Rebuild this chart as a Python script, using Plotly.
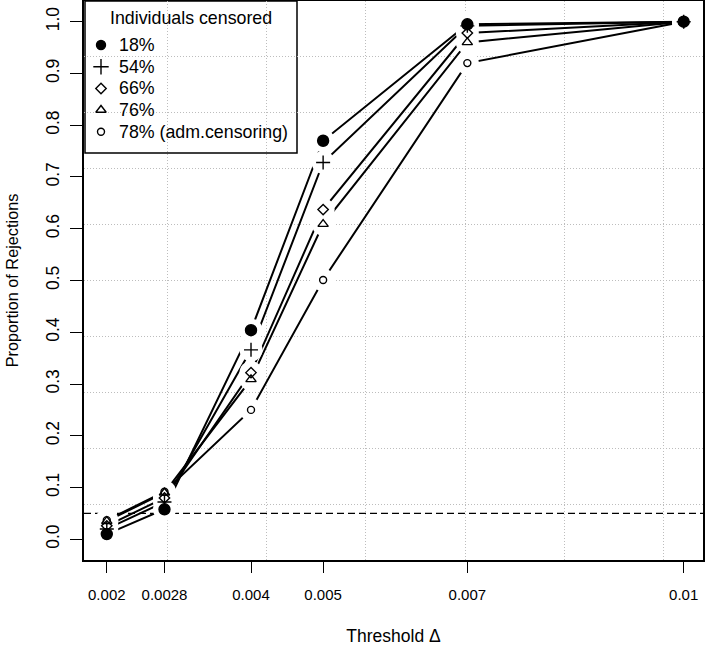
import plotly.graph_objects as go

# ---------------- data ----------------
thresholds = [0.002, 0.0028, 0.004, 0.005, 0.007, 0.01]
tick_labels = ["0.002", "0.0028", "0.004", "0.005", "0.007", "0.01"]
series_names = ["18%", "54%", "66%", "76%", "78% (adm.censoring)"]
rej_18 = [0.010, 0.058, 0.404, 0.770, 0.995, 1.000]
rej_54 = [0.020, 0.072, 0.366, 0.728, 0.992, 1.000]
rej_66 = [0.026, 0.080, 0.322, 0.637, 0.978, 1.000]
rej_76 = [0.035, 0.090, 0.309, 0.609, 0.960, 1.000]
rej_78 = [0.037, 0.092, 0.250, 0.501, 0.920, 1.000]
y_tick_vals = [0.0, 0.1, 0.2, 0.3, 0.4, 0.5, 0.6, 0.7, 0.8, 0.9, 1.0]
nominal_level = 0.05
legend_title = "Individuals censored"

series_values = [rej_18, rej_54, rej_66, rej_76, rej_78]

# ---------------- styles ----------------
FONT = "Liberation Sans, Arial, Helvetica, sans-serif"
plot_symbols = ["circle", "cross-thin-open", "diamond-open", "triangle-up-open", "circle-open"]
plot_sizes = [11, 10, 8, 9, 7]
legend_sizes = [9, 11, 8, 9, 7]

x_range = [0.001684, 0.010268]
y_range = [-0.04, 1.04]
# R-style grid: equally spaced dotted lines
x_grid = [0.002835 + k * 0.0013775 for k in range(6)]
y_grid = [y_range[0] + k * (y_range[1] - y_range[0]) / 10 for k in range(1, 10)]

fig = go.Figure()

# connecting lines
for name, vals in zip(series_names, series_values):
    fig.add_trace(go.Scatter(x=thresholds, y=vals, mode="lines",
                             line=dict(color="black", width=2),
                             showlegend=False, hoverinfo="skip"))
# white halos -> gaps like R type="b"
for name, vals in zip(series_names, series_values):
    fig.add_trace(go.Scatter(x=thresholds, y=vals, mode="markers",
                             marker=dict(symbol="circle", size=23, color="white",
                                         line=dict(width=0)),
                             showlegend=False, hoverinfo="skip"))
# point symbols
for name, vals, sym, sz in zip(series_names, series_values, plot_symbols, plot_sizes):
    fig.add_trace(go.Scatter(x=thresholds, y=vals, mode="markers", name=name,
                             marker=dict(symbol=sym, size=sz, color="black",
                                         line=dict(color="black", width=1.4)),
                             showlegend=False))

# ---------------- manual legend (R style) ----------------
leg_x_sym = (101 - 84) / 619
leg_x_txt = (116.5 - 84) / 619
leg_rows = [(560 - y) / 559 for y in (45, 66.7, 88.5, 110, 131.7)]
for name, sym, sz, ry in zip(series_names, plot_symbols, legend_sizes, leg_rows):
    fig.add_trace(go.Scatter(x=[leg_x_sym], y=[ry], xaxis="x2", yaxis="y2",
                             mode="markers",
                             marker=dict(symbol=sym, size=sz, color="black",
                                         line=dict(color="black", width=1.4)),
                             showlegend=False, hoverinfo="skip"))
    fig.add_annotation(x=leg_x_txt, y=ry, xref="paper", yref="paper",
                       text=name, showarrow=False, xanchor="left", yanchor="middle",
                       font=dict(family=FONT, size=17.8, color="black"))
fig.add_annotation(x=(190.8 - 84) / 619, y=(560 - 18) / 559, xref="paper", yref="paper",
                   text=legend_title, showarrow=False, xanchor="center", yanchor="middle",
                   font=dict(family=FONT, size=17.8, color="black"))
fig.add_shape(type="rect", xref="paper", yref="paper",
              x0=(85 - 84) / 619, x1=(297 - 84) / 619,
              y0=(560 - 153) / 559, y1=1.0,
              fillcolor="white", line=dict(color="black", width=1.5), layer="between")

# nominal level reference line
fig.add_shape(type="line", xref="paper", yref="y", x0=0, x1=1,
              y0=nominal_level, y1=nominal_level,
              line=dict(color="black", width=1.4, dash="7px,4px"), layer="between")

fig.update_layout(
    width=709, height=648,
    margin=dict(l=84, r=6, t=1, b=88, autoexpand=False),
    paper_bgcolor="white", plot_bgcolor="white",
    font=dict(family=FONT, color="black"),
    showlegend=False,
    xaxis=dict(range=x_range, tickmode="array", tickvals=thresholds, ticktext=tick_labels,
               automargin=False,
               ticks="outside", ticklen=11, tickwidth=1.3, tickcolor="black",
               showline=True, mirror=True, linecolor="black", linewidth=1.5,
               showgrid=False, zeroline=False, ticklabelstandoff=9,
               tickfont=dict(family=FONT, size=15, color="black"),
               minor=dict(tickmode="array", tickvals=x_grid, showgrid=True,
                          gridcolor="#bdbdbd", griddash="1px,2px", gridwidth=1, ticks=""),
               title=dict(text="Threshold Δ", standoff=28,
                          font=dict(family=FONT, size=17.5, color="black"))),
    yaxis=dict(range=y_range, tickmode="array", tickvals=y_tick_vals,
               ticktext=[f"{v:.1f}" for v in y_tick_vals], tickangle=-90,
               automargin=False,
               ticks="outside", ticklen=12, tickwidth=1.3, tickcolor="black",
               showline=True, mirror=True, linecolor="black", linewidth=1.5,
               showgrid=False, zeroline=False, ticklabelstandoff=4,
               tickfont=dict(family=FONT, size=17.5, color="black"),
               minor=dict(tickmode="array", tickvals=y_grid, showgrid=True,
                          gridcolor="#bdbdbd", griddash="1px,2px", gridwidth=1, ticks=""),
               title=dict(text="Proportion of Rejections", standoff=21,
                          font=dict(family=FONT, size=16.3, color="black"))),
    xaxis2=dict(overlaying="x", range=[0, 1], visible=False),
    yaxis2=dict(overlaying="y", range=[0, 1], visible=False),
)

fig.write_html("out.html", config={"displayModeBar": False},
               post_script="document.body.style.margin='0px';")
